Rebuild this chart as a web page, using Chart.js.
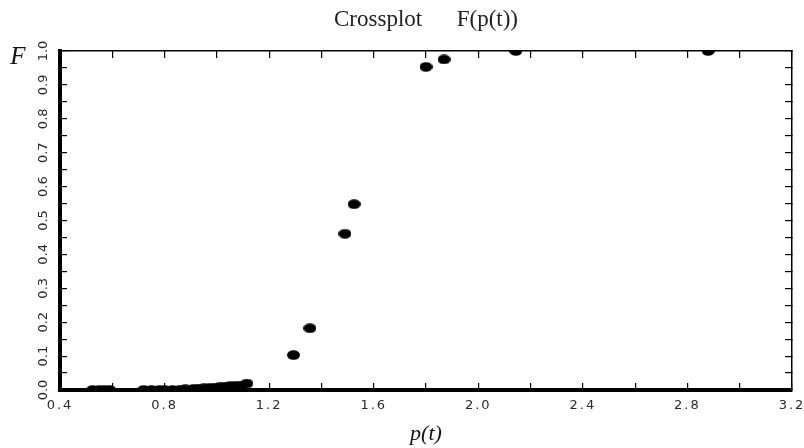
<!DOCTYPE html>
<html>
<head>
<meta charset="utf-8">
<script src="https://cdn.jsdelivr.net/npm/chart.js@4/dist/chart.umd.min.js"></script>
<style>
  html, body { margin: 0; padding: 0; background: #ffffff; }
  #wrap { width: 804px; height: 448px; }
</style>
</head>
<body>
<div id="wrap"><canvas id="c" width="804" height="448"></canvas></div>
<script>
// ---- data ----
const pValues = [0.525, 0.55, 0.57, 0.59,
  0.72, 0.75, 0.78, 0.80, 0.83, 0.86, 0.88, 0.91, 0.93, 0.95, 0.97, 0.99, 1.01, 1.03, 1.05, 1.07, 1.09, 1.115,
  1.293, 1.356, 1.490, 1.525,
  1.800, 1.869, 2.144, 2.879];
const fValues = [0.0, 0.0, 0.0, 0.0,
  0.0, 0.0, 0.0, 0.0, 0.0, 0.001, 0.002, 0.003, 0.004, 0.005, 0.006, 0.007, 0.008, 0.010, 0.011, 0.012, 0.013, 0.019,
  0.103, 0.182, 0.461, 0.548,
  0.953, 0.975, 1.0, 1.0];
const xTickLabels = ['0.4', '0.8', '1.2', '1.6', '2.0', '2.4', '2.8', '3.2'];
const yTickLabels = ['0.0', '0.1', '0.2', '0.3', '0.4', '0.5', '0.6', '0.7', '0.8', '0.9', '1.0'];
const chartTitle = 'Crossplot\u00a0\u00a0\u00a0\u00a0\u00a0\u00a0F(p(t))';
const xAxisTitle = 'p(t)';
const yAxisTitle = 'F';

// ---- point marker (slightly flattened dot) ----
const dot = document.createElement('canvas');
dot.width = 13; dot.height = 10;
(function () {
  const g = dot.getContext('2d');
  g.fillStyle = '#000';
  g.beginPath();
  g.ellipse(6.5, 5, 6.5, 4.8, 0, 0, Math.PI * 2);
  g.fill();
})();

const points = pValues.map((p, i) => ({ x: p, y: fValues[i] }));

const yLabelPlugin = {
  id: 'yLabel',
  afterLayout(chart) {
    const sx = chart.scales.x;
    if (!sx._wideWrapped) {
      const orig = sx.drawLabels;
      sx.drawLabels = function (area) {
        const ctx = this.ctx;
        ctx.save();
        ctx.letterSpacing = '2px';
        orig.call(this, area);
        ctx.restore();
      };
      sx._wideWrapped = true;
    }
  },
  afterDraw(chart) {
    const ctx = chart.ctx;
    ctx.save();
    ctx.font = 'italic 25px "Liberation Serif"';
    ctx.fillStyle = '#111';
    ctx.textAlign = 'center';
    ctx.textBaseline = 'middle';
    ctx.fillText(yAxisTitle, 18, 57);
    ctx.restore();
  }
};

const tickColor = '#2a2a2a';

function noSidePadding(s) { s.paddingLeft = 0; s.paddingRight = 0; }

new Chart(document.getElementById('c'), {
  type: 'scatter',
  data: {
    datasets: [{
      data: points,
      pointStyle: dot,
      pointRadius: 6,
      pointHoverRadius: 6,
      backgroundColor: '#000',
      borderColor: '#000',
      clip: { left: 0, top: 0, right: 0, bottom: 0 }
    }]
  },
  options: {
    responsive: false,
    animation: false,
    devicePixelRatio: 1,
    layout: { padding: 0 },
    plugins: {
      legend: { display: false },
      tooltip: { enabled: false },
      title: {
        display: true,
        text: chartTitle,
        fullSize: false,
        font: { family: '"Liberation Serif"', size: 23, weight: 'normal' },
        color: '#222',
        padding: { top: 6, bottom: 15.4 }
      }
    },
    scales: {
      x: {
        type: 'linear',
        position: 'bottom',
        min: 0.4, max: 3.2,
        z: 1,
        afterFit(s) { s.height = 58; noSidePadding(s); },
        afterBuildTicks(s) {
          const t = [];
          for (let k = 4; k <= 32; k += 2) t.push({ value: k / 10 });
          s.ticks = t;
        },
        border: { display: true, color: '#000', width: 4 },
        grid: { drawOnChartArea: false, drawTicks: true, tickLength: -7, color: '#000', lineWidth: 1.2 },
        ticks: {
          autoSkip: false,
          maxRotation: 0,
          padding: 15,
          font: { family: '"DejaVu Sans"', size: 13 },
          color: tickColor,
          callback(v) { const s = Number(v).toFixed(1); return xTickLabels.includes(s) ? s : ''; }
        },
        title: {
          display: true,
          text: xAxisTitle,
          font: { family: '"Liberation Serif"', size: 22, style: 'italic' },
          color: '#111',
          padding: { top: 0, bottom: 1 }
        }
      },
      x2: {
        type: 'linear',
        position: 'top',
        min: 0.4, max: 3.2,
        z: 1,
        afterFit(s) { s.height = 2; noSidePadding(s); },
        afterBuildTicks(s) {
          const t = [];
          for (let k = 4; k <= 32; k += 2) t.push({ value: k / 10 });
          s.ticks = t;
        },
        border: { display: true, color: '#000', width: 1.5 },
        grid: { drawOnChartArea: false, drawTicks: true, tickLength: -7, color: '#000', lineWidth: 1.2 },
        ticks: { display: false, autoSkip: false }
      },
      y: {
        type: 'linear',
        position: 'left',
        min: 0, max: 1,
        z: 1,
        afterFit(s) { s.width = 60; s.paddingTop = 0; s.paddingBottom = 0; },
        afterBuildTicks(s) {
          const t = [];
          for (let k = 0; k <= 20; k++) t.push({ value: k / 20 });
          s.ticks = t;
        },
        border: { display: true, color: '#000', width: 4 },
        grid: { drawOnChartArea: false, drawTicks: true, tickLength: -7, color: '#000', lineWidth: 1.2 },
        ticks: {
          autoSkip: false,
          minRotation: 90,
          maxRotation: 90,
          crossAlign: 'center',
          padding: 13,
          font: { family: '"DejaVu Sans"', size: 13 },
          color: tickColor,
          callback(v) { const s = Number(v).toFixed(1); return (Math.round(v * 20) % 2 === 0 && yTickLabels.includes(s)) ? s : ''; }
        }
      },
      y2: {
        type: 'linear',
        position: 'right',
        min: 0, max: 1,
        z: 1,
        afterFit(s) { s.width = 12; s.paddingTop = 0; s.paddingBottom = 0; },
        afterBuildTicks(s) {
          const t = [];
          for (let k = 0; k <= 20; k++) t.push({ value: k / 20 });
          s.ticks = t;
        },
        border: { display: true, color: '#000', width: 1.5 },
        grid: { drawOnChartArea: false, drawTicks: true, tickLength: -7, color: '#000', lineWidth: 1.2 },
        ticks: { display: false, autoSkip: false }
      }
    }
  },
  plugins: [yLabelPlugin]
});
</script>
</body>
</html>
